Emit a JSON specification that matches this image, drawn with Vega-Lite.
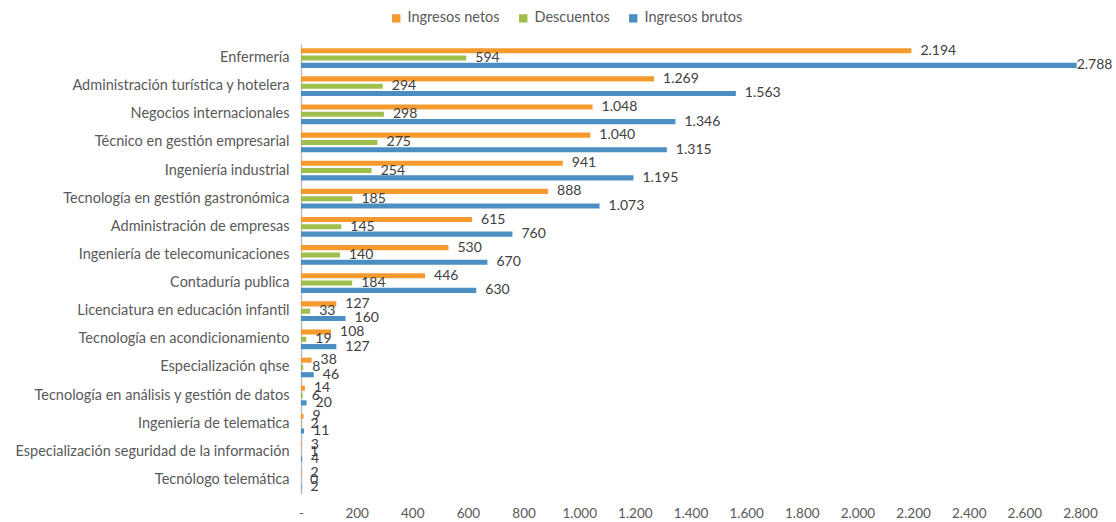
{
  "$schema": "https://vega.github.io/schema/vega-lite/v6.json",
  "autosize": {"type": "none"},
  "width": 779,
  "height": 450,
  "padding": {"left": 301, "top": 44, "right": 36, "bottom": 28},
  "background": "white",
  "config": {
    "view": {"stroke": null},
    "font": "Lato",
    "locale": {"number": {"decimal": ",", "thousands": ".", "grouping": [3], "currency": ["$", ""]}}
  },
  "data": {
    "values": [
      {"programa": "Enfermería", "serie": "Ingresos netos", "valor": 2194},
      {"programa": "Enfermería", "serie": "Descuentos", "valor": 594},
      {"programa": "Enfermería", "serie": "Ingresos brutos", "valor": 2788},
      {"programa": "Administración turística y hotelera", "serie": "Ingresos netos", "valor": 1269},
      {"programa": "Administración turística y hotelera", "serie": "Descuentos", "valor": 294},
      {"programa": "Administración turística y hotelera", "serie": "Ingresos brutos", "valor": 1563},
      {"programa": "Negocios internacionales", "serie": "Ingresos netos", "valor": 1048},
      {"programa": "Negocios internacionales", "serie": "Descuentos", "valor": 298},
      {"programa": "Negocios internacionales", "serie": "Ingresos brutos", "valor": 1346},
      {"programa": "Técnico en gestión empresarial", "serie": "Ingresos netos", "valor": 1040},
      {"programa": "Técnico en gestión empresarial", "serie": "Descuentos", "valor": 275},
      {"programa": "Técnico en gestión empresarial", "serie": "Ingresos brutos", "valor": 1315},
      {"programa": "Ingeniería industrial", "serie": "Ingresos netos", "valor": 941},
      {"programa": "Ingeniería industrial", "serie": "Descuentos", "valor": 254},
      {"programa": "Ingeniería industrial", "serie": "Ingresos brutos", "valor": 1195},
      {"programa": "Tecnología en gestión gastronómica", "serie": "Ingresos netos", "valor": 888},
      {"programa": "Tecnología en gestión gastronómica", "serie": "Descuentos", "valor": 185},
      {"programa": "Tecnología en gestión gastronómica", "serie": "Ingresos brutos", "valor": 1073},
      {"programa": "Administración de empresas", "serie": "Ingresos netos", "valor": 615},
      {"programa": "Administración de empresas", "serie": "Descuentos", "valor": 145},
      {"programa": "Administración de empresas", "serie": "Ingresos brutos", "valor": 760},
      {"programa": "Ingeniería de telecomunicaciones ", "serie": "Ingresos netos", "valor": 530},
      {"programa": "Ingeniería de telecomunicaciones ", "serie": "Descuentos", "valor": 140},
      {"programa": "Ingeniería de telecomunicaciones ", "serie": "Ingresos brutos", "valor": 670},
      {"programa": "Contaduría publica", "serie": "Ingresos netos", "valor": 446},
      {"programa": "Contaduría publica", "serie": "Descuentos", "valor": 184},
      {"programa": "Contaduría publica", "serie": "Ingresos brutos", "valor": 630},
      {"programa": "Licenciatura en educación infantil", "serie": "Ingresos netos", "valor": 127},
      {"programa": "Licenciatura en educación infantil", "serie": "Descuentos", "valor": 33},
      {"programa": "Licenciatura en educación infantil", "serie": "Ingresos brutos", "valor": 160},
      {"programa": "Tecnología en acondicionamiento", "serie": "Ingresos netos", "valor": 108},
      {"programa": "Tecnología en acondicionamiento", "serie": "Descuentos", "valor": 19},
      {"programa": "Tecnología en acondicionamiento", "serie": "Ingresos brutos", "valor": 127},
      {"programa": "Especialización qhse", "serie": "Ingresos netos", "valor": 38},
      {"programa": "Especialización qhse", "serie": "Descuentos", "valor": 8},
      {"programa": "Especialización qhse", "serie": "Ingresos brutos", "valor": 46},
      {"programa": "Tecnología en análisis y gestión de datos", "serie": "Ingresos netos", "valor": 14},
      {"programa": "Tecnología en análisis y gestión de datos", "serie": "Descuentos", "valor": 6},
      {"programa": "Tecnología en análisis y gestión de datos", "serie": "Ingresos brutos", "valor": 20},
      {"programa": "Ingeniería de telematica", "serie": "Ingresos netos", "valor": 9},
      {"programa": "Ingeniería de telematica", "serie": "Descuentos", "valor": 2},
      {"programa": "Ingeniería de telematica", "serie": "Ingresos brutos", "valor": 11},
      {"programa": "Especialización seguridad de la información", "serie": "Ingresos netos", "valor": 3},
      {"programa": "Especialización seguridad de la información", "serie": "Descuentos", "valor": 1},
      {"programa": "Especialización seguridad de la información", "serie": "Ingresos brutos", "valor": 4},
      {"programa": "Tecnólogo telemática", "serie": "Ingresos netos", "valor": 2},
      {"programa": "Tecnólogo telemática", "serie": "Descuentos", "valor": 0},
      {"programa": "Tecnólogo telemática", "serie": "Ingresos brutos", "valor": 2}
    ]
  },
  "encoding": {
    "y": {
      "field": "programa",
      "type": "nominal",
      "sort": null,
      "title": null,
      "scale": {"paddingInner": 0.3, "paddingOuter": 0.15},
      "axis": {
        "domainColor": "#BFBFBF",
        "domainWidth": 1.5,
        "ticks": false,
        "labelPadding": 12,
        "labelFontSize": 14.5,
        "labelColor": "#595959",
        "labelFont": "Lato",
        "labelLimit": 400
      }
    },
    "yOffset": {
      "field": "serie",
      "type": "nominal",
      "sort": ["Ingresos netos", "Descuentos", "Ingresos brutos"],
      "scale": {"paddingInner": 0.3}
    }
  },
  "layer": [
    {
      "mark": {"type": "bar"},
      "encoding": {
        "x": {
          "field": "valor",
          "type": "quantitative",
          "title": null,
          "scale": {"domain": [0, 2800], "nice": false},
          "axis": {
            "values": [0, 200, 400, 600, 800, 1000, 1200, 1400, 1600, 1800, 2000, 2200, 2400, 2600, 2800],
            "labelExpr": "datum.value == 0 ? '-' : datum.label",
            "format": ",d",
            "labelOverlap": false,
            "labelFlush": false,
            "labelBound": false,
            "domain": false,
            "ticks": false,
            "grid": false,
            "labelPadding": 12,
            "labelFontSize": 13.5,
            "labelColor": "#595959",
            "labelFont": "Lato"
          }
        },
        "color": {
          "field": "serie",
          "type": "nominal",
          "sort": ["Ingresos netos", "Descuentos", "Ingresos brutos"],
          "scale": {
            "domain": ["Ingresos netos", "Descuentos", "Ingresos brutos"],
            "range": ["#F59B2E", "#9FBF4C", "#4A8EC2"]
          },
          "legend": {
            "title": null,
            "orient": "none",
            "direction": "horizontal",
            "legendX": 88,
            "legendY": -33,
            "symbolType": "square",
            "symbolSize": 70,
            "symbolStrokeWidth": 0,
            "labelFontSize": 14.5,
            "labelColor": "#595959",
            "labelFont": "Lato",
            "columnPadding": 16,
            "labelOffset": 4
          }
        }
      }
    },
    {
      "transform": [{"filter": "datum.valor < 2700"}],
      "mark": {"type": "text", "align": "left", "baseline": "middle", "dx": 9, "fontSize": 14, "color": "#404040", "font": "Lato"},
      "encoding": {
        "x": {"field": "valor", "type": "quantitative"},
        "text": {"field": "valor", "type": "quantitative", "format": ",d"}
      }
    },
    {
      "transform": [{"filter": "datum.valor >= 2700"}],
      "mark": {"type": "text", "align": "left", "baseline": "middle", "dx": 0, "fontSize": 14, "color": "#404040", "font": "Lato"},
      "encoding": {
        "x": {"field": "valor", "type": "quantitative"},
        "text": {"field": "valor", "type": "quantitative", "format": ",d"}
      }
    }
  ]
}
